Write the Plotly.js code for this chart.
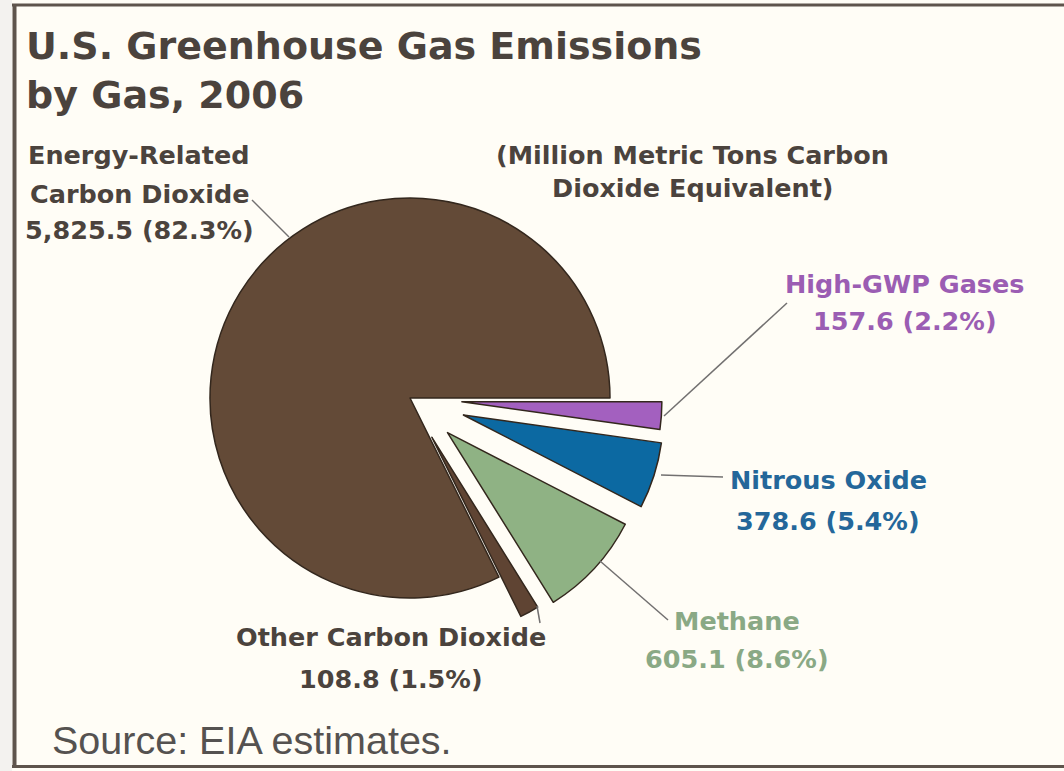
<!DOCTYPE html>
<html>
<head>
<meta charset="utf-8">
<script src="https://cdn.plot.ly/plotly-3.0.1.min.js"></script>
<style>html,body{margin:0;padding:0;background:#fffdf6;}#chart{width:1064px;height:771px;}</style>
</head>
<body>
<div id="chart"></div>
<script>
// ---- data ----
const categories = ['High-GWP Gases', 'Nitrous Oxide', 'Methane', 'Other Carbon Dioxide', 'Energy-Related Carbon Dioxide'];
const labelLines = [['High-GWP Gases'], ['Nitrous Oxide'], ['Methane'], ['Other Carbon Dioxide'], ['Energy-Related', 'Carbon Dioxide']];
const values = [157.6, 378.6, 605.1, 108.8, 5825.5];
const percents = [2.2, 5.4, 8.6, 1.5, 82.3];
const titleText = 'U.S. Greenhouse Gas Emissions<br>by Gas, 2006';
const unitsLines = ['(Million Metric Tons Carbon', 'Dioxide Equivalent)'];
const sourceText = 'Source: EIA estimates.';

// ---- styles / positions ----
const W = 1064, H = 771;
const px = x => x / W;
const py = y => 1 - y / H;
const sliceColors = ['#a360bf', '#0c69a2', '#8fb284', '#5f4433', '#634a37'];
const textColors = ['#9b5db3', '#24679a', '#8aa985', '#4b433d', '#4b433d'];
const pulls = [0.26, 0.28, 0.255, 0.225, 0];
// label placement: center x, cap-center y for each line (px)
const labelPos = [
  {x: 905, ys: [284, 321]},
  {x: 828, ys: [480, 521]},
  {x: 737, ys: [621, 659]},
  {x: 391, ys: [637, 679]},
  {x: 139, ys: [155, 193.5, 230]}
];
const leaders = [
  [787, 303, 664, 416],
  [723, 477, 661, 475],
  [668, 620, 600, 561],
  [537, 606, 540, 623],
  [252, 200, 289, 237]
];
const labelFont = 'DejaVu Sans';
const labelSize = 25.5;
const fmt = v => v.toLocaleString('en-US', {minimumFractionDigits: 1, maximumFractionDigits: 1});

// pie geometry: center (410,398), radius 200 -> box = 2*r*(1+maxPull)
const cx = 410, cy = 398, r = 200;
const maxPull = Math.max(...pulls);
const half = r * (1 + maxPull);

const trace = {
  type: 'pie',
  labels: categories,
  values: values,
  sort: false,
  direction: 'clockwise',
  rotation: 90,
  pull: pulls,
  textinfo: 'none',
  hoverinfo: 'label+value+percent',
  marker: {colors: sliceColors, line: {color: '#33271d', width: 1.5}},
  domain: {x: [px(cx - half), px(cx + half)], y: [py(cy + half), py(cy - half)]},
  showlegend: false
};

const annotations = [];
categories.forEach((c, i) => {
  const lines = labelLines[i].concat([fmt(values[i]) + ' (' + percents[i].toFixed(1) + '%)']);
  lines.forEach((t, j) => {
    annotations.push({
      text: '<b>' + t + '</b>', showarrow: false, xref: 'paper', yref: 'paper',
      x: px(labelPos[i].x), y: py(labelPos[i].ys[j]), xanchor: 'center', yanchor: 'middle',
      font: {family: labelFont, size: labelSize, color: textColors[i]}
    });
  });
});
const unitsY = [155, 188];
unitsLines.forEach((t, j) => {
  annotations.push({
    text: '<b>' + t + '</b>', showarrow: false, xref: 'paper', yref: 'paper',
    x: px(692), y: py(unitsY[j]), xanchor: 'center', yanchor: 'middle',
    font: {family: labelFont, size: labelSize, color: '#4b433d'}
  });
});
annotations.push({
  text: sourceText, showarrow: false, xref: 'paper', yref: 'paper',
  x: px(50), y: py(740), xanchor: 'left', yanchor: 'middle',
  font: {family: 'Liberation Sans, Arial, sans-serif', size: 39.5, color: '#555250'}
});
annotations.push({
  text: '<b>' + titleText + '</b>', showarrow: false, xref: 'paper', yref: 'paper', align: 'left',
  x: px(24), y: py(70), xanchor: 'left', yanchor: 'middle',
  font: {family: 'DejaVu Sans', size: 38, color: '#4b433d'}
});

const shapes = [];
// leader lines
leaders.forEach(l => shapes.push({type: 'line', xref: 'paper', yref: 'paper',
  x0: px(l[0]), y0: py(l[1]), x1: px(l[2]), y1: py(l[3]), line: {color: '#727070', width: 1.5}}));
// frame
shapes.push({type: 'rect', xref: 'paper', yref: 'paper', x0: 0, x1: px(12), y0: 0, y1: 1, fillcolor: '#f3f2ef', line: {width: 0}, layer: 'below'});
shapes.push({type: 'line', xref: 'paper', yref: 'paper', x0: px(12), x1: 1, y0: py(5), y1: py(5), line: {color: '#5e544c', width: 3}});
shapes.push({type: 'line', xref: 'paper', yref: 'paper', x0: px(12), x1: 1, y0: py(766.5), y1: py(766.5), line: {color: '#5e544c', width: 3}});
shapes.push({type: 'line', xref: 'paper', yref: 'paper', x0: px(14.5), x1: px(14.5), y0: py(4), y1: py(768), line: {color: '#5e544c', width: 4}});

const layout = {
  width: W, height: H,
  margin: {l: 0, r: 0, t: 0, b: 0},
  paper_bgcolor: '#fffdf6',
  plot_bgcolor: '#fffdf6',
  showlegend: false,
  annotations: annotations,
  shapes: shapes
};

Plotly.newPlot('chart', [trace], layout, {displayModeBar: false, staticPlot: true});
</script>
</body>
</html>
